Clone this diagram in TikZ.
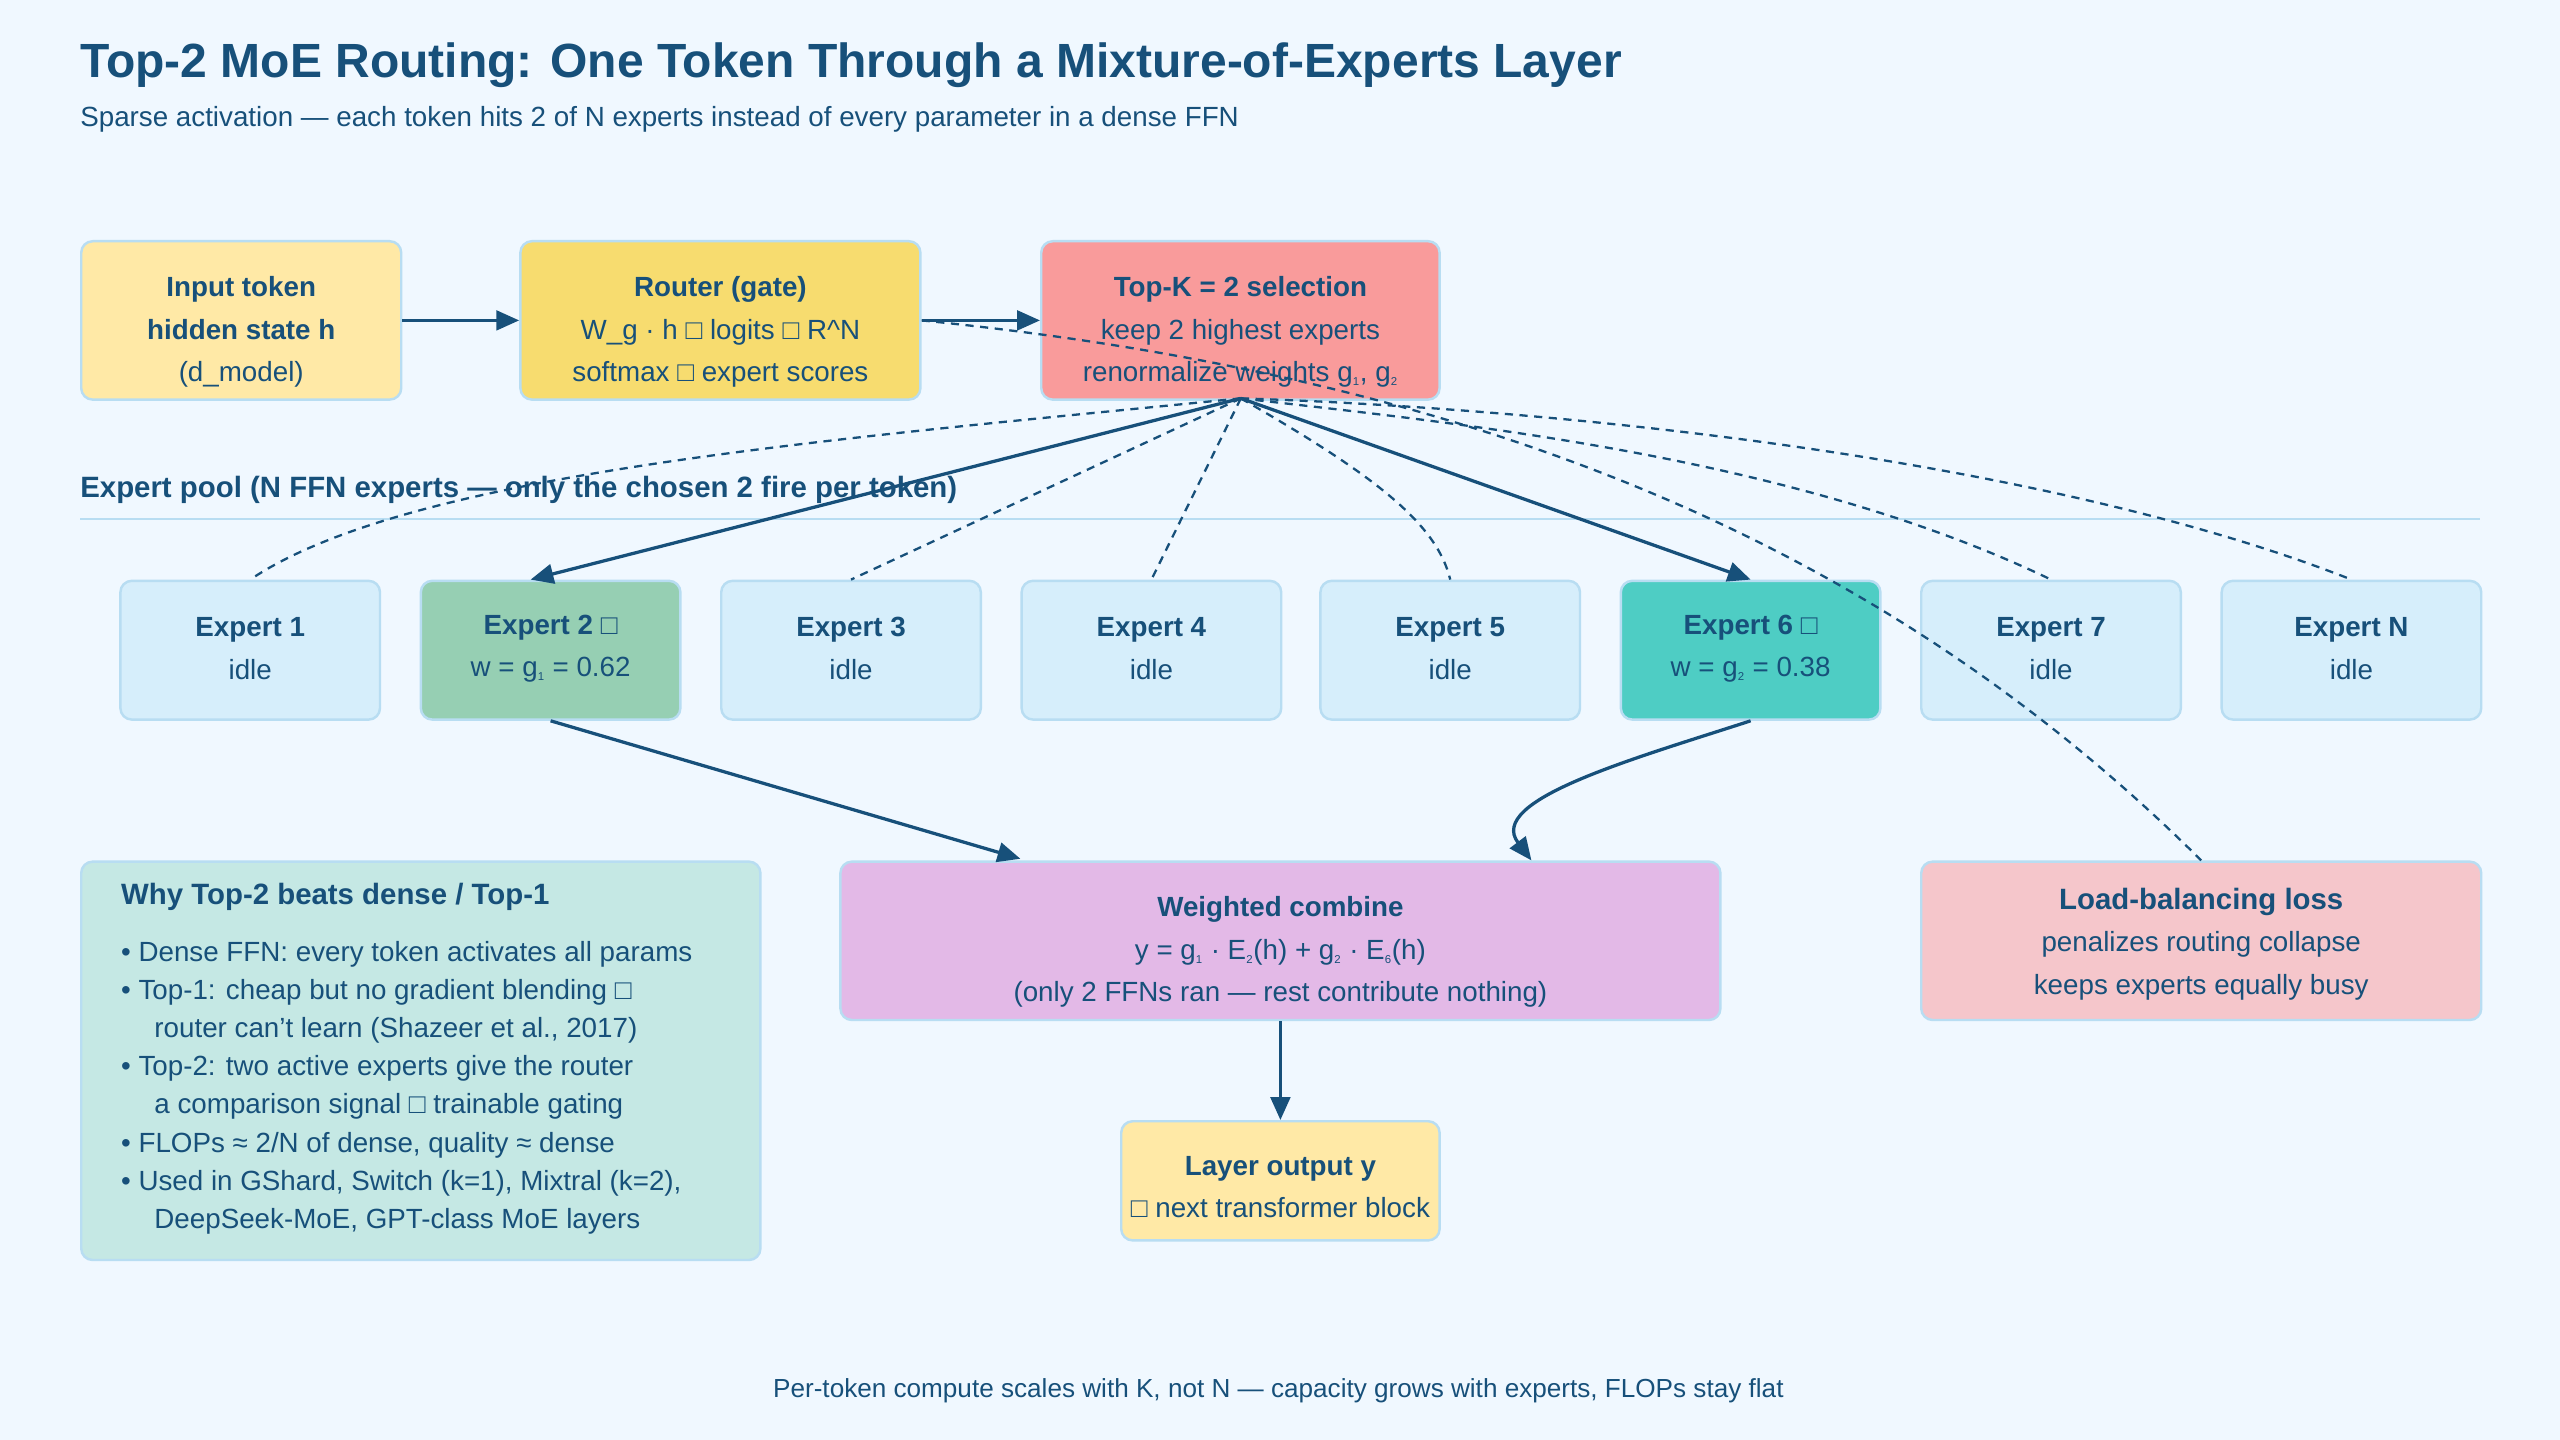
\documentclass[tikz,border=0pt]{standalone}
\usepackage{fontspec}
\setmainfont{Liberation Sans}
\usetikzlibrary{arrows.meta}
\definecolor{bg}{HTML}{F0F8FF}
\definecolor{ink}{HTML}{17507A}
\definecolor{edge}{HTML}{B8DDF2}
\definecolor{cIn}{HTML}{FFE9A6}
\definecolor{cRt}{HTML}{F7DC6F}
\definecolor{cTk}{HTML}{F99B9B}
\definecolor{cEx}{HTML}{D6EEFB}
\definecolor{cE2}{HTML}{96CFB3}
\definecolor{cE6}{HTML}{4ECDC4}
\definecolor{cWhy}{HTML}{C5E8E4}
\definecolor{cWc}{HTML}{E3B9E7}
\definecolor{cLb}{HTML}{F5C6CB}
\newcommand{\tofu}{□}
\newcommand{\sbs}[1]{\textsubscript{\scriptsize #1}}
\begin{document}
\begin{tikzpicture}[x=1pt,y=-1pt,
  box/.style={draw=edge,line width=1.5pt,rounded corners=7pt,anchor=north west,inner sep=0pt},
  txt/.style={align=center,text=ink,font=\fontsize{17}{26}\selectfont,inner sep=0pt,yshift=-7pt},
  conn/.style={draw=ink,line width=2pt,-{Triangle[length=14pt,width=12pt]}},
  dsh/.style={draw=ink,line width=1.4pt,dash pattern=on 5pt off 4pt}]
\fill[bg] (0,0) rectangle (1568,882);
\useasboundingbox (0,0) rectangle (1568,882);
\node[anchor=west,text=ink,font=\fontsize{29.4}{34}\selectfont\bfseries,inner sep=0pt] (title) at (49,40) {Top-2 MoE Routing: One Token Through a Mixture-of-Experts Layer};
\node[anchor=west,text=ink,font=\fontsize{17}{20}\selectfont,inner sep=0pt] (sub) at (49,73) {Sparse activation — each token hits 2 of N experts instead of every parameter in a dense FFN};

\node[box,fill=cIn,minimum width=196pt,minimum height=97pt] (in) at (49,147) {};
\node[txt] (inT) at (in.center) {\textbf{Input token}\\\textbf{hidden state h}\\(d\_model)};
\node[box,fill=cRt,minimum width=245pt,minimum height=97pt] (rt) at (318,147) {};
\node[txt] (rtT) at (rt.center) {\textbf{Router (gate)}\\W\_g · h \tofu\ logits \tofu\ R\textasciicircum N\\softmax \tofu\ expert scores};
\node[box,fill=cTk,minimum width=244pt,minimum height=97pt] (tk) at (637,147) {};
\node[txt] (tkT) at (tk.center) {\textbf{Top-K = 2 selection}\\keep 2 highest experts\\renormalize weights g\sbs{1}, g\sbs{2}};

\node[anchor=west,text=ink,font=\fontsize{18}{20}\selectfont\bfseries,inner sep=0pt] (pool) at (49,300) {Expert pool (N FFN experts — only the chosen 2 fire per token)};
\draw[edge,line width=1.5pt] (49,318) -- (1519,318);

\foreach \i/\x/\t/\s/\c in {1/73/Expert 1/idle/cEx,2/257/Expert 2 \tofu/w = g\sbs{1} = 0.62/cE2,3/441/Expert 3/idle/cEx,4/625/Expert 4/idle/cEx,5/808/Expert 5/idle/cEx,6/992/Expert 6 \tofu/w = g\sbs{2} = 0.38/cE6,7/1176/Expert 7/idle/cEx,8/1360/Expert N/idle/cEx}{
  \node[box,fill=\c,minimum width=159pt,minimum height=85pt] (e\i) at (\x,355) {};
  \node[txt,yshift=8pt] (e\i T) at (e\i.center) {\textbf{\t}\\\s};}

\node[box,fill=cWhy,minimum width=416pt,minimum height=244pt] (why) at (49,527) {};
\node[anchor=north west,text=ink,align=left,font=\fontsize{17}{23.4}\selectfont,inner sep=0pt] (whyT) at (74,541) {\textbf{\fontsize{18}{20}\selectfont Why Top-2 beats dense / Top-1}\\[11pt]
• Dense FFN: every token activates all params\\
• Top-1: cheap but no gradient blending \tofu\\
\hspace*{1.2em}router can't learn (Shazeer et al., 2017)\\
• Top-2: two active experts give the router\\
\hspace*{1.2em}a comparison signal \tofu\ trainable gating\\
• FLOPs ≈ 2/N of dense, quality ≈ dense\\
• Used in GShard, Switch (k=1), Mixtral (k=2),\\
\hspace*{1.2em}DeepSeek-MoE, GPT-class MoE layers};

\node[box,fill=cWc,minimum width=539pt,minimum height=97pt] (wc) at (514,527) {};
\node[txt] (wcT) at (wc.center) {\textbf{Weighted combine}\\y = g\sbs{1} · E\sbs{2}(h) + g\sbs{2} · E\sbs{6}(h)\\(only 2 FFNs ran — rest contribute nothing)};
\node[box,fill=cLb,minimum width=343pt,minimum height=97pt] (lb) at (1176,527) {};
\node[txt,yshift=5pt] (lbT) at (lb.center) {\textbf{\fontsize{18}{20}\selectfont Load-balancing loss}\\penalizes routing collapse\\keeps experts equally busy};
\node[box,fill=cIn,minimum width=195pt,minimum height=73pt] (out) at (686,686) {};
\node[txt,yshift=3pt] (outT) at (out.center) {\textbf{Layer output y}\\\tofu\ next transformer block};

\node[text=ink,font=\fontsize{16}{19}\selectfont,inner sep=0pt] (foot) at (783,852) {Per-token compute scales with K, not N — capacity grows with experts, FLOPs stay flat};

% connectors
\coordinate (tkb) at (760,244);
\coordinate (e2in) at (325,355);
\coordinate (wcl) at (625,526);
\coordinate (wcr) at (938,527);
\draw[conn] (in.east) -- (rt.west);
\draw[conn] (rt.east) -- (tk.west);
\draw[dsh] (rt.east) .. controls (900,230) and (1150,330) .. (lb.north);
\draw[conn] (tkb) -- (e2in);
\draw[conn] (tkb) -- (e6.north);
\draw[dsh] (tkb) .. controls (500,270) and (250,290) .. (e1.north);
\draw[dsh] (tkb) -- (e3.north);
\draw[dsh] (tkb) -- (e4.north);
\draw[dsh] (tkb) .. controls (840,290) and (880,320) .. (e5.north);
\draw[dsh] (tkb) .. controls (900,260) and (1100,280) .. (e7.north);
\draw[dsh] (tkb) .. controls (950,250) and (1250,280) .. (e8.north);
\draw[conn] (e2.south) -- (wcl);
\draw[conn] (e6.south) .. controls (1000,465) and (910,490) .. (wcr);
\draw[conn] (wc.south) -- (out.north);
\end{tikzpicture}
\end{document}
